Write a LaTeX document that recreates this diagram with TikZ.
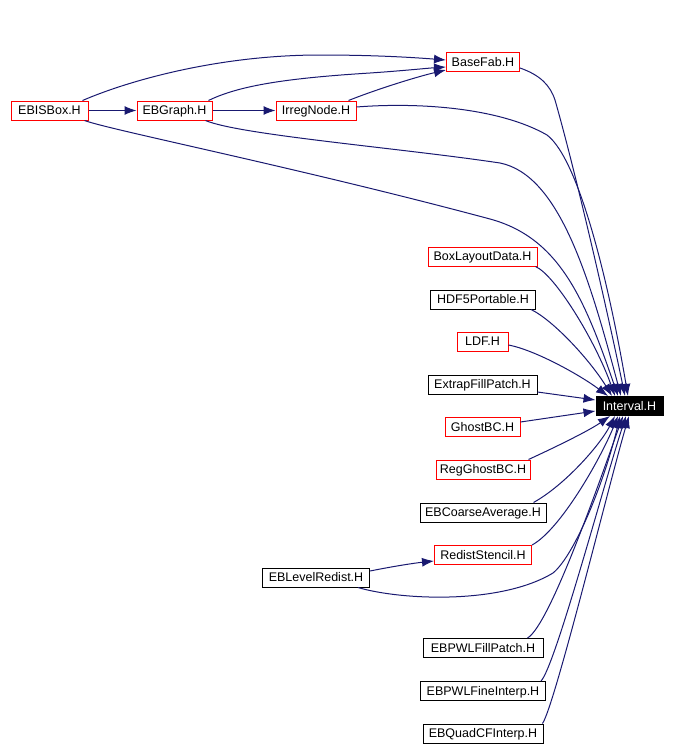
\documentclass[tikz,border=0pt]{standalone}
\usepackage{fontspec}
\setmainfont{Liberation Sans}
\usetikzlibrary{arrows.meta}
\definecolor{edgeblue}{HTML}{191970}
\definecolor{boxred}{HTML}{FF0000}
\begin{document}
\begin{tikzpicture}[x=1pt,y=-1pt,
  file/.style={draw=black,line width=1pt,rectangle,inner sep=0pt,minimum height=19pt,text height=8.5pt,text depth=0pt,font=\fontsize{12.5}{14}\selectfont},
  redfile/.style={file,draw=boxred},
  target/.style={file,fill=black,text=white},
  dep/.style={draw=edgeblue,line width=1pt,-{Latex[length=12pt,width=9pt]}}]
\useasboundingbox (0,0) rectangle (677,745);
% nodes
\node[redfile,minimum width=77pt] (ebisbox) at (49.5,110.5) {EBISBox.H};
\node[redfile,minimum width=75pt] (ebgraph) at (174.5,110.5) {EBGraph.H};
\node[redfile,minimum width=80pt] (irreg) at (316,110.5) {IrregNode.H};
\node[redfile,minimum width=73pt] (basefab) at (483,62) {BaseFab.H};
\node[target,minimum width=67pt] (interval) at (629.5,406) {Interval.H};
\node[redfile,minimum width=109pt] (boxlayout) at (482.5,256.5) {BoxLayoutData.H};
\node[file,minimum width=105pt] (hdf5) at (483,299.5) {HDF5Portable.H};
\node[redfile,minimum width=51pt] (ldf) at (482.5,341.5) {LDF.H};
\node[file,minimum width=109pt] (extrap) at (482.5,384.5) {ExtrapFillPatch.H};
\node[redfile,minimum width=75pt] (ghostbc) at (482.5,427) {GhostBC.H};
\node[redfile,minimum width=94pt] (regghost) at (483,469.5) {RegGhostBC.H};
\node[file,minimum width=126pt] (coarse) at (483,512.5) {EBCoarseAverage.H};
\node[redfile,minimum width=97pt] (redist) at (483,555) {RedistStencil.H};
\node[file,minimum width=107pt] (levelredist) at (316,577.5) {EBLevelRedist.H};
\node[file,minimum width=120pt] (pwlfill) at (483,648) {EBPWLFillPatch.H};
\node[file,minimum width=125pt] (pwlfine) at (483,691) {EBPWLFineInterp.H};
\node[file,minimum width=120pt] (quadcf) at (483,733.5) {EBQuadCFInterp.H};
% edges among top nodes
\draw[dep] (ebisbox.east) -- (ebgraph.west);
\draw[dep] (ebgraph.east) -- (irreg.west);
\draw[dep] ([xshift=-6pt]ebisbox.north east) .. controls (130,80) and (220,55) .. (320,55)
  .. controls (380,55) and (420,58) .. ([yshift=2pt]basefab.west);
\draw[dep] ([xshift=-4pt]ebgraph.north east) .. controls (240,85) and (290,78) .. (370,73)
  .. controls (400,71) and (430,68) .. ([yshift=-5pt]basefab.west);
\draw[dep] ([xshift=-8pt]irreg.north east) .. controls (380,88) and (420,76) .. ([yshift=-8pt]basefab.west);
% edges into Interval from above
\draw[dep] ([xshift=-4pt]ebisbox.south east) .. controls (110,130) and (300,168) .. (490,219)
  .. controls (560,238) and (585,300) .. ([xshift=-11.5pt]interval.north);
\draw[dep] ([xshift=-7pt]ebgraph.south east) .. controls (240,135) and (400,148) .. (500,163)
  .. controls (560,175) and (590,280) .. ([xshift=-8.5pt]interval.north);
\draw[dep] ([yshift=3.5pt]irreg.east) .. controls (420,102) and (500,108) .. (547,135)
  .. controls (580,160) and (610,290) .. ([xshift=-1.5pt]interval.north);
\draw[dep] ([yshift=-6pt]basefab.east) .. controls (540,75) and (550,85) .. (555,100)
  .. controls (575,170) and (605,300) .. ([xshift=-4.5pt]interval.north);
\draw[dep] ([xshift=-2pt]boxlayout.south east) .. controls (555,275) and (595,340) .. ([xshift=-14.5pt]interval.north);
\draw[dep] ([xshift=-5pt]hdf5.south east) .. controls (553,320) and (590,360) .. ([xshift=-17.5pt]interval.north);
\draw[dep] ([yshift=-3.5pt]ldf.east) .. controls (535,350) and (580,375) .. ([xshift=-21.5pt]interval.north);
\draw[dep] ([yshift=-7.5pt]extrap.east) -- ([yshift=6pt]interval.west);
\draw[dep] ([yshift=5pt]ghostbc.east) -- ([yshift=-5pt]interval.west);
% edges into Interval from below
\draw[dep] ([xshift=-2pt]regghost.north east) .. controls (560,445) and (590,430) .. ([xshift=-19.5pt]interval.south);
\draw[dep] ([xshift=-13pt]coarse.north east) .. controls (565,485) and (600,445) .. ([xshift=-14.5pt]interval.south);
\draw[dep] (redist.north east) .. controls (560,530) and (600,460) .. ([xshift=-11.5pt]interval.south);
\draw[dep] ([yshift=6.5pt]levelredist.east) .. controls (395,566) and (415,563) .. ([yshift=-6pt]redist.west);
\draw[dep] ([xshift=-12pt]levelredist.south east) .. controls (400,600) and (500,605) .. (553,573)
  .. controls (575,555) and (605,480) .. ([xshift=-9.5pt]interval.south);
\draw[dep] ([xshift=-16pt]pwlfill.north east) .. controls (550,625) and (600,480) .. ([xshift=-6.5pt]interval.south);
\draw[dep] ([xshift=-5pt]pwlfine.north east) .. controls (555,667) and (605,480) .. ([xshift=-3.5pt]interval.south);
\draw[dep] ([xshift=-1pt]quadcf.north east) .. controls (555,705) and (610,480) .. ([xshift=-0.5pt]interval.south);
\end{tikzpicture}
\end{document}
